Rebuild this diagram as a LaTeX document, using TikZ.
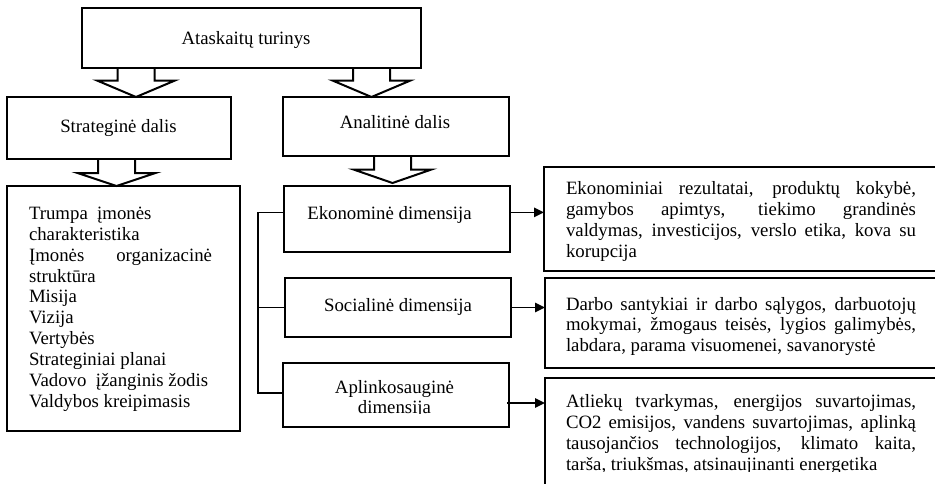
\documentclass[tikz,border=0pt]{standalone}
\usepackage{fontspec}
\setmainfont{Liberation Serif}
\usetikzlibrary{calc,arrows.meta}

% one drawing unit (px) in points
\newdimen\pxu \pxu=0.75pt

% rectangle node given by its name and two corners (x1,y1) (x2,y2)
\newcommand\cornerbox[5]{%
  \node[box, minimum width={(#4-#2)*0.75pt}, minimum height={(#5-#3)*0.75pt}]
    (#1) at ({(#2+#4)/2},{(#3+#5)/2}) {};}

% a line stretched to the full width (justified)
\newcommand\jline[2]{\makebox[#1\pxu][s]{#2}}

% hollow downward block arrow: start of shaft, tip, head length
\newcommand\blockarrow[3]{%
  \draw[barrow] let \p1=(#1), \p2=(#2) in
    (\x1-13.875pt,\y1) -- (\x1-13.875pt,\y2+#3*0.75pt) -- (\x2-29.25pt,\y2+#3*0.75pt)
    -- (\x2,\y2) -- (\x2+29.25pt,\y2+#3*0.75pt) -- (\x1+13.875pt,\y2+#3*0.75pt)
    -- (\x1+13.875pt,\y1);}

\tikzset{
  box/.style={draw, line width=1.5pt, inner sep=0pt, outer sep=0pt},
  txt/.style={inner sep=0pt, outer sep=0pt, anchor=base},
  conn/.style={line width=1.3pt},
  link/.style={conn, -{Triangle[length=7.5pt,width=7pt]}},
  barrow/.style={line width=1.5pt, line join=miter},
}

\begin{document}
\begin{tikzpicture}[x=0.75pt, y=-0.75pt, font=\fontsize{14.1pt}{15.675pt}\selectfont]
\useasboundingbox (0,0) rectangle (935,483);
\fill[white] (0,0) rectangle (935,483);
\clip (0,0) rectangle (935,483);

% boxes
\cornerbox{top}{82}{8}{421}{68}
\cornerbox{strat}{7}{97}{231}{159}
\cornerbox{anal}{283}{97}{509}{156}
\cornerbox{list}{7}{186}{240}{431}
\cornerbox{eko}{284}{186}{510}{252}
\cornerbox{soc}{285}{278}{511}{337}
\cornerbox{apl}{283}{363}{509}{427}
\cornerbox{ekod}{544}{167}{970}{271}
\cornerbox{socd}{545}{278}{970}{368}
\cornerbox{apld}{545}{378}{970}{520}

% titles
\node[txt] (topt) at (246,44.3) {Ataskaitų turinys};
\node[txt] (stratt) at (118.5,132.3) {Strateginė dalis};
\node[txt] (analt) at (395,128.3) {Analitinė dalis};
\node[txt] (ekot) at (389.5,219.3) {Ekonominė dimensija};
\node[txt] (soct) at (398,311) {Socialinė dimensija};
\begin{scope}
  \clip (283,363) rectangle (509,413);
  \node[txt] (aplt1) at (394.5,393.3) {Aplinkosauginė};
  \node[txt] (aplt2) at (394.5,413.5) {dimensija};
\end{scope}

% strategic part contents
\node[txt, anchor=base west] (listt) at (29,219.3) {\parbox[t]{220\pxu}{%
  Trumpa\ \ įmonės\\
  charakteristika\\
  \jline{183}{Įmonės organizacinė}\\
  struktūra\\
  Misija\\
  Vizija\\
  Vertybės\\
  Strateginiai planai\\
  Vadovo\ \ įžanginis žodis\\
  Valdybos kreipimasis}};

% dimension descriptions
\node[txt, anchor=base west] (ekodt) at (566,194.3) {\parbox[t]{380\pxu}{%
  \jline{350}{Ekonominiai rezultatai, produktų kokybė,}\\
  \jline{350}{gamybos apimtys, tiekimo grandinės}\\
  \jline{350}{valdymas, investicijos, verslo etika, kova su}\\
  korupcija}};
\node[txt, anchor=base west] (socdt) at (566,310) {\parbox[t]{380\pxu}{%
  \jline{350}{Darbo santykiai ir darbo sąlygos, darbuotojų}\\
  \jline{350}{mokymai, žmogaus teisės, lygios galimybės,}\\
  labdara, parama visuomenei, savanorystė}};
\begin{scope}
  \clip (545,378) rectangle (935,471);
  \node[txt, anchor=base west] (apldt) at (566,407.3) {\parbox[t]{380\pxu}{%
    \jline{350}{Atliekų tvarkymas, energijos suvartojimas,}\\
    \jline{350}{CO2 emisijos, vandens suvartojimas, aplinką}\\
    \jline{350}{tausojančios technologijos, klimato kaita,}\\
    tarša, triukšmas, atsinaujinanti energetika}};
\end{scope}

% bracket joining the three dimensions
\coordinate (ekoj) at ($(eko.north west)!0.4!(eko.south west)$);
\coordinate (aplw) at ($(apl.north west)!0.47!(apl.south west)$);
\draw[conn] (ekoj) -- ++(-26,0) coordinate (brk) |- (aplw);
\draw[conn] (soc.west) -- (soc.west -| brk);

% arrows to the descriptions
\coordinate (aplj) at ($(apl.north east)!0.625!(apl.south east)$);
\draw[link] (ekoj -| eko.east) -- (ekoj -| ekod.west);
\draw[link] (soc.east) -- (soc.east -| socd.west);
\draw[link] ([xshift=-1.5pt]aplj) -- (aplj -| apld.west);

% hollow block arrows
\coordinate (a1s) at ($(top.south west)+(54,0)$);
\coordinate (a2s) at ($(top.south west)+(289.5,0)$);
\coordinate (a3s) at ($(strat.south west)+(109.5,0)$);
\coordinate (a4s) at ($(anal.south west)+(109.5,0)$);
\coordinate (a4e) at ($(a4s |- eko.north)+(0,-3)$);
\blockarrow{a1s}{a1s |- strat.north}{16.5}
\blockarrow{a2s}{a2s |- anal.north}{16.5}
\blockarrow{a3s}{a3s |- list.north}{13}
\blockarrow{a4s}{a4e}{13.5}
\end{tikzpicture}
\end{document}
